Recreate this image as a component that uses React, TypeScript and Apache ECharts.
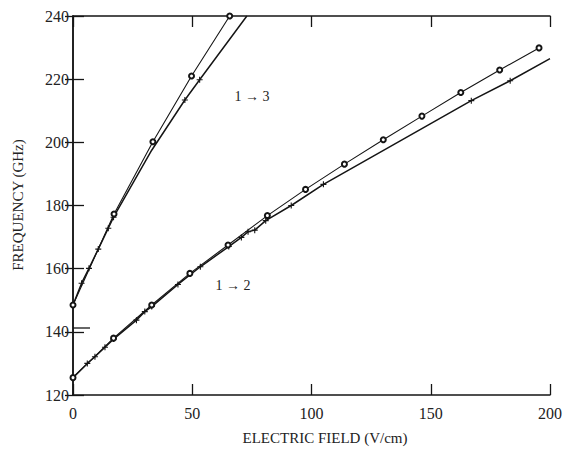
import React, { useEffect, useRef } from "react";
import * as echarts from "echarts";

const xTickLabels = [0, 50, 100, 150, 200];
const yTickLabels = [120, 140, 160, 180, 200, 220, 240];

// 1 -> 3 transition
const t13CircleX = [0, 17.2, 33.5, 49.7, 65.7];
const t13CircleY = [148.5, 177.3, 200.2, 221, 240];
const t13CrossX = [0, 3.6, 6.7, 10.6, 14.8, 17, 33, 46.9, 53.1, 72.9];
const t13CrossY = [148.5, 155.4, 160.1, 166.2, 172.8, 176.3, 197.5, 213.4, 219.8, 240];
const t13CrossMarked = [false, true, true, true, true, true, false, true, true, false];

// 1 -> 2 transition
const t12CircleX = [0, 17, 33, 49, 65, 81.5, 97.5, 113.8, 130.1, 146.3, 162.6, 178.9, 195.4];
const t12CircleY = [125.5, 138, 148.5, 158.5, 167.5, 176.8, 185.1, 193.1, 200.8, 208.3, 215.8, 222.9, 229.9];
const t12CrossX = [0, 6, 9.2, 13.4, 17, 26.6, 30.1, 33, 44, 53.4, 65.3, 70.6, 73.4, 76.2, 80.8, 91.5, 105, 167, 183.3, 200];
const t12CrossY = [125.5, 130, 132.1, 135.1, 137.7, 143.7, 146.4, 148, 155, 160.6, 167, 169.9, 171.7, 172.2, 175.2, 180, 186.7, 213.2, 219.5, 226.5];
const t12CrossMarked = [false, true, true, true, true, true, true, true, true, true, true, true, true, true, true, true, true, true, true, false];

const INK = "#151515";
const FONT = "'Liberation Serif', 'DejaVu Serif', serif";
const CROSS = "path://M5,0L5,10M0,5L10,5";

function crossData(xs: number[], ys: number[], marked: boolean[]) {
  return xs.map((x, i) =>
    marked[i] ? { value: [x, ys[i]] } : { value: [x, ys[i]], symbol: "none" }
  );
}

export default function App() {
  const ref = useRef<HTMLDivElement>(null);
  useEffect(() => {
    if (!ref.current) return;
    const chart = echarts.init(ref.current, undefined, { renderer: "svg" });
    const axisLine = { show: true, lineStyle: { color: INK, width: 1.5 } };
    const circleSeries = (xs: number[], ys: number[]) => ({
      type: "line",
      data: xs.map((x, i) => [x, ys[i]]),
      symbol: "emptyCircle",
      symbolSize: 5,
      showAllSymbol: true,
      lineStyle: { color: INK, width: 1.1 },
      itemStyle: { color: INK, borderColor: INK, borderWidth: 0.9 },
      z: 3,
    });
    const crossSeries = (xs: number[], ys: number[], m: boolean[]) => ({
      type: "line",
      data: crossData(xs, ys, m),
      symbol: CROSS,
      symbolSize: 6,
      showAllSymbol: true,
      lineStyle: { color: INK, width: 1.5 },
      itemStyle: { color: "none", borderColor: INK, borderWidth: 1.1 },
      z: 2,
    });
    chart.setOption({
      animation: false,
      backgroundColor: "#ffffff",
      grid: { left: 73, top: 16, right: 14, bottom: 55, containLabel: false },
      xAxis: [
        {
          type: "value",
          min: 0,
          max: 200,
          interval: 50,
          position: "bottom",
          axisLine,
          axisTick: { show: true, inside: true, length: 11, lineStyle: { color: INK, width: 1.3 } },
          axisLabel: { color: "#222", fontFamily: FONT, fontSize: 16, margin: 10 },
          splitLine: { show: false },
        },
        {
          type: "value",
          min: 0,
          max: 200,
          interval: 50,
          position: "top",
          axisLine,
          axisTick: { show: true, inside: true, length: 11, lineStyle: { color: INK, width: 1.3 } },
          axisLabel: { show: false },
          splitLine: { show: false },
        },
      ],
      yAxis: [
        {
          type: "value",
          min: 120,
          max: 240,
          interval: 20,
          position: "left",
          axisLine,
          axisTick: { show: true, inside: true, length: 11, lineStyle: { color: INK, width: 1.3 } },
          axisLabel: { color: "#222", fontFamily: FONT, fontSize: 16, margin: 4 },
          splitLine: { show: false },
        },
        {
          type: "value",
          min: 120,
          max: 240,
          interval: 20,
          position: "right",
          axisLine,
          axisTick: { show: true, inside: true, length: 8, lineStyle: { color: INK, width: 1.3 } },
          axisLabel: { show: false },
          splitLine: { show: false },
        },
      ],
      series: [
        circleSeries(t13CircleX, t13CircleY),
        crossSeries(t13CrossX, t13CrossY, t13CrossMarked),
        circleSeries(t12CircleX, t12CircleY),
        crossSeries(t12CrossX, t12CrossY, t12CrossMarked),
      ],
      graphic: [
        {
          type: "text",
          x: 18,
          y: 205,
          rotation: Math.PI / 2,
          style: {
            text: "FREQUENCY (GHz)",
            fontFamily: FONT,
            fontSize: 15,
            fill: "#222",
            textAlign: "center",
            textVerticalAlign: "middle",
          },
        },
        {
          type: "text",
          x: 325,
          y: 438,
          style: {
            text: "ELECTRIC FIELD (V/cm)",
            fontFamily: FONT,
            fontSize: 15,
            fill: "#222",
            textAlign: "center",
            textVerticalAlign: "middle",
          },
        },
        {
          type: "text",
          x: 252,
          y: 96,
          style: {
            text: "1 → 3",
            fontFamily: FONT,
            fontSize: 14,
            fill: "#222",
            textAlign: "center",
            textVerticalAlign: "middle",
          },
        },
        {
          type: "text",
          x: 233,
          y: 285,
          style: {
            text: "1 → 2",
            fontFamily: FONT,
            fontSize: 14,
            fill: "#222",
            textAlign: "center",
            textVerticalAlign: "middle",
          },
        },
        {
          type: "line",
          shape: { x1: 73, y1: 328, x2: 90, y2: 328 },
          style: { stroke: INK, lineWidth: 1.3 },
        },
      ],
    });
    return () => chart.dispose();
  }, []);
  return (
    <div
      ref={ref}
      style={{ position: "fixed", left: 0, top: 0, width: 565, height: 450, background: "#fff" }}
    />
  );
}
